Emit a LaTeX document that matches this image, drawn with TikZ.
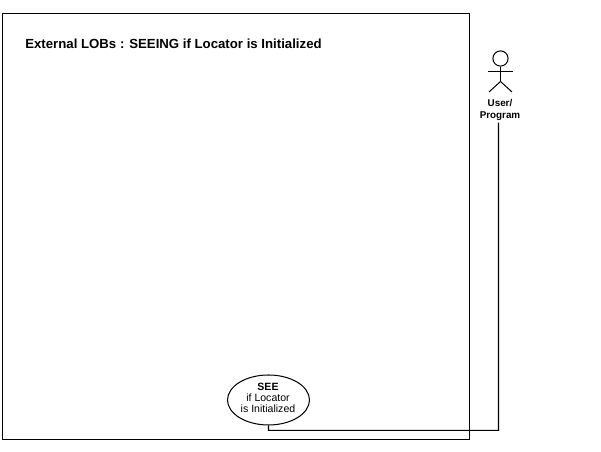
\documentclass[tikz,border=0pt]{standalone}
\usepackage{fontspec}
\setmainfont{Liberation Sans}
\usepackage{tikz}
\usetikzlibrary{shapes.geometric}

\tikzset{
	thinline/.style={line width=0.72pt, black},
	titletext/.style={font=\bfseries\fontsize{9.4}{11}\selectfont, anchor=west, inner sep=0pt},
	actortext/.style={font=\fontsize{7}{8.2}\selectfont, align=center, inner sep=0pt},
	casetext/.style={font=\fontsize{7.5}{7.8}\selectfont, align=center, inner sep=0pt},
	casenode/.style={ellipse, draw, thinline, inner sep=0pt, minimum width=2.05cm, minimum height=1.25cm}
}

\begin{document}
\begin{tikzpicture}
		\useasboundingbox (0, 0) rectangle (15.025, 11.3);

		% system frame and its title
		\draw[thinline] (0.0625, 0.3125) rectangle (11.7375, 10.9625);
		\draw (0.625, 10.2) node[titletext] (title)    {External LOBs : SEEING if Locator is Initialized};

		% stick figure
		\draw (12.5125, 9.8375) node[circle, draw, thinline, inner sep=0pt, minimum size=0.38cm] (head)    {};
		\draw[thinline] (head.south) -- (12.5125, 9.2625) coordinate (hip);
		\draw[thinline] (12.2, 9.5125) -- (12.825, 9.5125);
		\draw[thinline] (hip) -- (12.225, 9.0);
		\draw[thinline] (hip) -- (12.8, 9.0);
		\draw (12.5, 8.55) node[actortext] (user)    {\textbf{User/}\\\textbf{Program}};

		% use case and its link to the figure
		\draw (6.7125, 1.3) node[casenode] (see)    {};
		\draw (6.7, 1.36) node[casetext] (seetext)    {\textbf{SEE}\\if Locator\\is Initialized};
		\draw (12.4625, 0.5375) coordinate (corner);
		\draw[thinline] ([xshift=-0.0375cm, yshift=-0.05cm]user.south) -- (corner) -| (see.south);
	\end{tikzpicture}
\end{document}
